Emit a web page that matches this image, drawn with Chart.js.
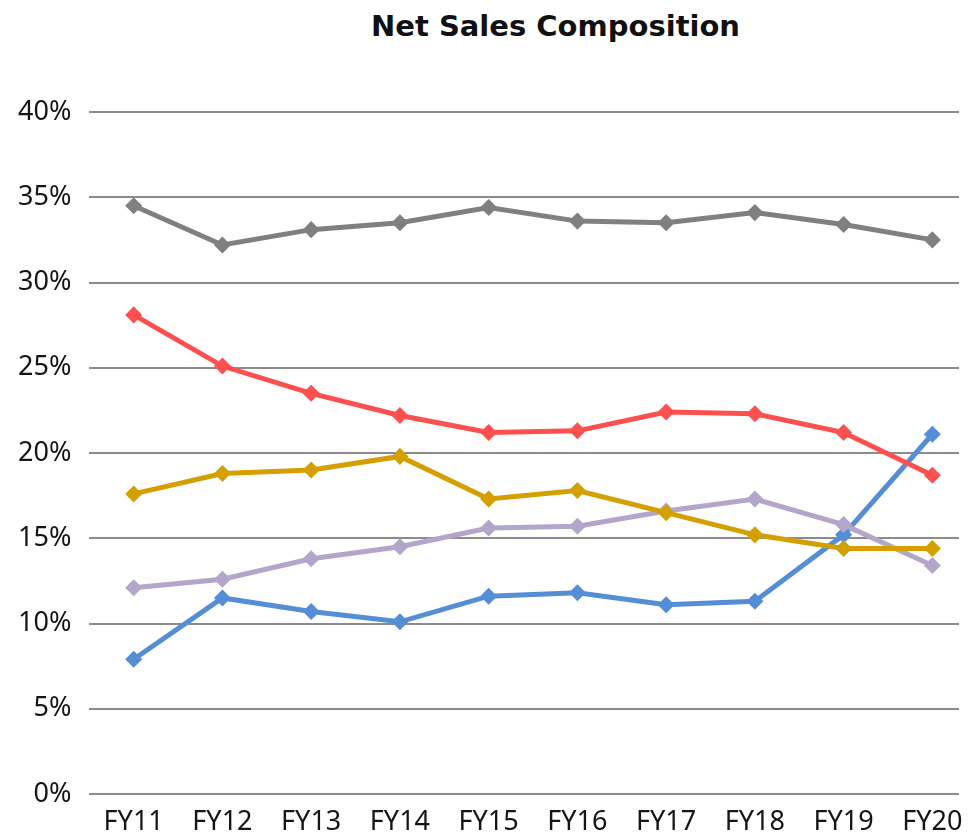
<!DOCTYPE html>
<html lang="en">
<head>
    <meta charset="UTF-8">
    <title>Net Sales Composition</title>
    <script src="https://cdn.jsdelivr.net/npm/chart.js"></script>
    <style>
        * {
            margin: 0;
            padding: 0;
            box-sizing: border-box;
        }
        body {
            background: #fff;
            width: 969px;
            height: 834px;
            overflow: hidden;
            font-family: 'Noto Sans', sans-serif;
        }
        .title {
            position: absolute;
            top: 9px;
            left: 142px;
            right: 0;
            text-align: center;
            font-family: 'DejaVu Sans', sans-serif;
            font-size: 29px;
            font-weight: 700;
            color: #111;
        }
        .wrap {
            position: absolute;
            left: 0;
            top: 0;
            width: 969px;
            height: 834px;
        }
    </style>
</head>
<body>
    <div class="title">Net Sales Composition</div>
    <div class="wrap"><canvas id="chart"></canvas></div>

    <script>
        // Fiscal years on the x axis
        const years = ['FY11', 'FY12', 'FY13', 'FY14', 'FY15', 'FY16', 'FY17', 'FY18', 'FY19', 'FY20'];

        // Share of net sales, %
        const graySeries     = [34.5, 32.2, 33.1, 33.5, 34.4, 33.6, 33.5, 34.1, 33.4, 32.5];
        const redSeries      = [28.1, 25.1, 23.5, 22.2, 21.2, 21.3, 22.4, 22.3, 21.2, 18.7];
        const goldSeries     = [17.6, 18.8, 19.0, 19.8, 17.3, 17.8, 16.5, 15.2, 14.4, 14.4];
        const lavenderSeries = [12.1, 12.6, 13.8, 14.5, 15.6, 15.7, 16.6, 17.3, 15.8, 13.4];
        const blueSeries     = [7.9, 11.5, 10.7, 10.1, 11.6, 11.8, 11.1, 11.3, 15.2, 21.1];

        const yTicks = [0, 5, 10, 15, 20, 25, 30, 35, 40];

        const tickFont = { family: "'Noto Sans', sans-serif", size: 27 };

        function makeSet(values, color) {
            return {
                data: values.map((v, i) => ({ x: i, y: v })),
                borderColor: color,
                backgroundColor: color,
                borderWidth: 5,
                pointStyle: 'rectRot',
                pointRadius: 5,
                pointHoverRadius: 5,
                tension: 0,
                fill: false
            };
        }

        const ctx = document.getElementById('chart').getContext('2d');
        new Chart(ctx, {
            type: 'line',
            data: {
                datasets: [
                    makeSet(graySeries, '#808080'),
                    makeSet(redSeries, '#ff5050'),
                    makeSet(goldSeries, '#d4a000'),
                    makeSet(lavenderSeries, '#b4a5cb'),
                    makeSet(blueSeries, '#558ed5')
                ]
            },
            options: {
                responsive: true,
                maintainAspectRatio: false,
                animation: false,
                layout: {
                    padding: { top: 112, left: 0, right: 0, bottom: 0 }
                },
                plugins: {
                    legend: { display: false },
                    title: { display: false },
                    tooltip: { enabled: false }
                },
                scales: {
                    x: {
                        type: 'linear',
                        min: -0.5,
                        max: 9.3,
                        afterBuildTicks: s => { s.ticks = years.map((_, i) => ({ value: i })); },
                        afterFit: s => { s.height = 40; s.paddingBottom = 0; },
                        grid: { display: false },
                        border: { display: false },
                        ticks: {
                            autoSkip: false,
                            maxRotation: 0,
                            padding: 4,
                            color: '#151515',
                            font: tickFont,
                            callback: v => years[v]
                        }
                    },
                    y: {
                        min: 0,
                        max: 40,
                        afterBuildTicks: s => { s.ticks = yTicks.map(v => ({ value: v })); },
                        afterFit: s => { s.paddingBottom = 0; },
                        grid: { color: '#8c8c8c', lineWidth: 2, drawTicks: false },
                        border: { display: false },
                        ticks: {
                            padding: 18,
                            color: '#151515',
                            font: tickFont,
                            callback: v => v + '%'
                        }
                    }
                }
            }
        });
    </script>
</body>
</html>
